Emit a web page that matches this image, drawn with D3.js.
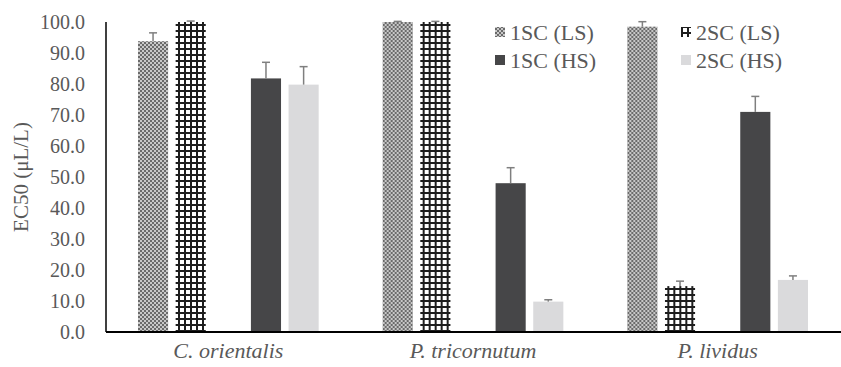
<!DOCTYPE html>
<html lang="en">
<head>
    <meta charset="UTF-8">
    <title>EC50 bar chart</title>
    <script src="https://d3js.org/d3.v7.min.js"></script>
    <style>
        body { margin: 0; background: #fff; }
        svg { display: block; }
    </style>
</head>
<body>
<div id="chart"></div>
<script>
    // data
    const categories = ["C. orientalis", "P. tricornutum", "P. lividus"];
    const seriesNames = ["1SC (LS)", "2SC (LS)", "1SC (HS)", "2SC (HS)"];
    const values = {
        "1SC (LS)": [93.8, 100.0, 98.5],
        "2SC (LS)": [100.0, 100.0, 14.8],
        "1SC (HS)": [81.8, 48.0, 71.0],
        "2SC (HS)": [79.8, 9.8, 16.8]
    };
    const errors = {
        "1SC (LS)": [2.7, 0.2, 1.6],
        "2SC (LS)": [0.3, 0.2, 1.6],
        "1SC (HS)": [5.2, 5.0, 5.0],
        "2SC (HS)": [5.8, 0.6, 1.3]
    };
    const yTicks = [0, 10, 20, 30, 40, 50, 60, 70, 80, 90, 100];

    const width = 841, height = 367;
    const margin = { left: 106, right: 1, top: 22, bottom: 35 };
    const font = "'Liberation Serif', 'DejaVu Serif', serif";
    const textColor = "#595959";

    const svg = d3.select("#chart").append("svg")
        .attr("width", width)
        .attr("height", height);

    // patterns for the two LS series
    const defs = svg.append("defs");
    const checker = defs.append("pattern")
        .attr("id", "checker")
        .attr("width", 4).attr("height", 4)
        .attr("patternUnits", "userSpaceOnUse");
    checker.append("rect").attr("width", 4).attr("height", 4).attr("fill", "#c8c8c8");
    checker.append("rect").attr("width", 2).attr("height", 2).attr("fill", "#6a6a6a");
    checker.append("rect").attr("x", 2).attr("y", 2).attr("width", 2).attr("height", 2).attr("fill", "#6a6a6a");

    const grid = defs.append("pattern")
        .attr("id", "grid")
        .attr("width", 6).attr("height", 6)
        .attr("patternUnits", "userSpaceOnUse");
    grid.append("rect").attr("width", 6).attr("height", 6).attr("fill", "#fff");
    grid.append("rect").attr("x", 0).attr("width", 2).attr("height", 6).attr("fill", "#1e1e1e");
    grid.append("rect").attr("y", 0).attr("width", 6).attr("height", 2).attr("fill", "#1e1e1e");

    const fills = {
        "1SC (LS)": "url(#checker)",
        "2SC (LS)": "url(#grid)",
        "1SC (HS)": "#464648",
        "2SC (HS)": "#dadadc"
    };

    const y = d3.scaleLinear()
        .domain([0, 100])
        .range([height - margin.bottom, margin.top]);

    const x0 = d3.scaleBand()
        .domain(categories)
        .range([margin.left, width - margin.right]);

    // an empty slot sits between the LS pair and the HS pair
    const x1 = d3.scaleBand()
        .domain(["1SC (LS)", "2SC (LS)", "gap", "1SC (HS)", "2SC (HS)"])
        .range([0, x0.bandwidth()])
        .paddingInner(0.2)
        .paddingOuter(0.85);

    // y axis labels
    svg.append("g")
        .selectAll("text")
        .data(yTicks)
        .join("text")
        .attr("x", margin.left - 21)
        .attr("y", d => y(d))
        .attr("dy", "0.35em")
        .attr("text-anchor", "end")
        .style("font-family", font)
        .style("font-size", "20px")
        .style("fill", textColor)
        .text(d => d.toFixed(1));

    svg.append("text")
        .attr("transform", `translate(28,${(margin.top + height - margin.bottom) / 2}) rotate(-90)`)
        .attr("text-anchor", "middle")
        .style("font-family", font)
        .style("font-size", "21px")
        .style("fill", textColor)
        .text("EC50 (μL/L)");

    // bars
    const groups = svg.append("g")
        .selectAll("g")
        .data(categories)
        .join("g")
        .attr("transform", d => `translate(${x0(d)},0)`);

    groups.each(function (cat, ci) {
        const g = d3.select(this);
        seriesNames.forEach(s => {
            const v = values[s][ci];
            const e = errors[s][ci];
            const cx = x1(s) + x1.bandwidth() / 2;
            g.append("rect")
                .attr("x", x1(s))
                .attr("y", y(v))
                .attr("width", x1.bandwidth())
                .attr("height", y(0) - y(v))
                .attr("fill", fills[s]);
            g.append("line")
                .attr("x1", cx).attr("x2", cx)
                .attr("y1", y(v)).attr("y2", y(v + e))
                .attr("stroke", "#7f7f7f").attr("stroke-width", 1.5);
            g.append("line")
                .attr("x1", cx - 4).attr("x2", cx + 4)
                .attr("y1", y(v + e)).attr("y2", y(v + e))
                .attr("stroke", "#7f7f7f").attr("stroke-width", 1.5);
        });
    });

    // axis lines
    svg.append("line")
        .attr("x1", margin.left).attr("x2", margin.left)
        .attr("y1", y(100)).attr("y2", y(0))
        .attr("stroke", "#000").attr("stroke-width", 1.5);
    svg.append("line")
        .attr("x1", margin.left).attr("x2", width)
        .attr("y1", y(0)).attr("y2", y(0))
        .attr("stroke", "#000").attr("stroke-width", 2);

    // category labels
    svg.append("g")
        .selectAll("text")
        .data(categories)
        .join("text")
        .attr("x", d => x0(d) + x0.bandwidth() / 2)
        .attr("y", height - 9)
        .attr("text-anchor", "middle")
        .style("font-family", font)
        .style("font-size", "22px")
        .style("font-style", "italic")
        .style("fill", textColor)
        .text(d => d);

    // legend
    const legendPos = [[495, 32], [681, 32], [495, 60], [681, 60]];
    const legend = svg.append("g")
        .selectAll("g")
        .data(seriesNames)
        .join("g")
        .attr("transform", (d, i) => `translate(${legendPos[i][0]},${legendPos[i][1]})`);
    legend.append("rect")
        .attr("x", 0).attr("y", -5)
        .attr("width", 10).attr("height", 10)
        .attr("fill", d => fills[d]);
    legend.append("text")
        .attr("x", 15)
        .attr("dy", "0.35em")
        .style("font-family", font)
        .style("font-size", "22px")
        .style("fill", textColor)
        .text(d => d);
</script>
</body>
</html>
